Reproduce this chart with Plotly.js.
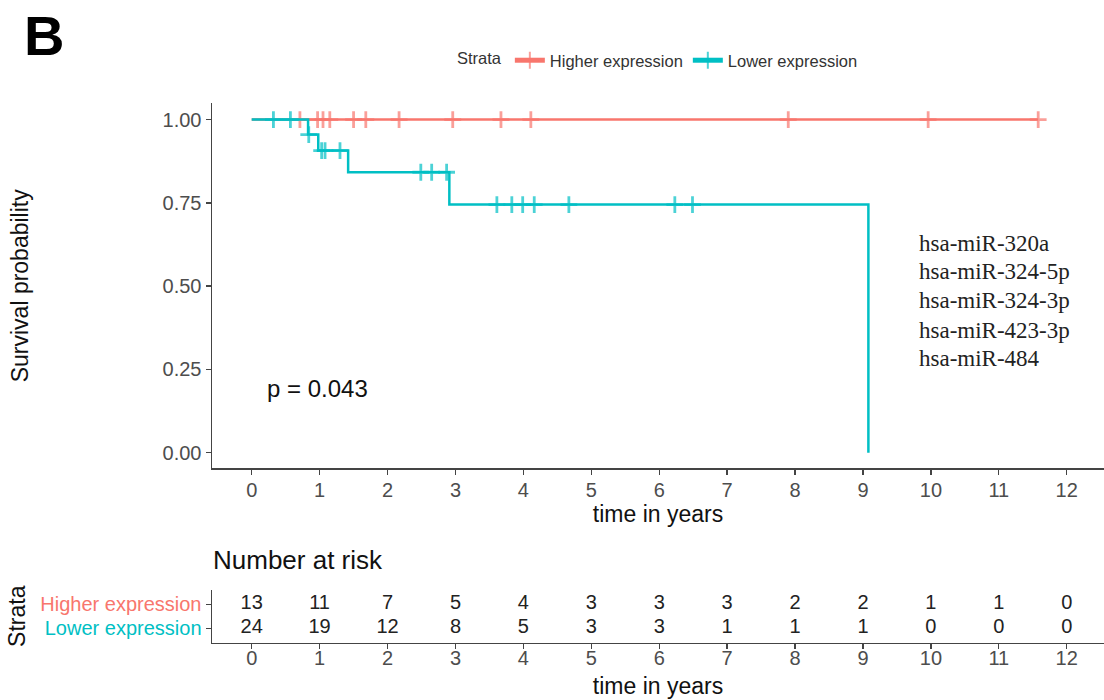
<!DOCTYPE html>
<html>
<head>
<meta charset="utf-8">
<script src="https://cdn.plot.ly/plotly-3.0.1.min.js"></script>
<style>html,body{margin:0;padding:0;background:#fff;}#chart{width:1104px;height:700px;}</style>
</head>
<body>
<div id="chart"></div>
<script>
// ---- data ----
const strataNames = ['Higher expression', 'Lower expression'];
const strataColors = ['#F8766D', '#00BFC4'];

const higherTimes  = [0, 0.71, 0.97, 1.05, 1.15, 1.50, 1.68, 2.17, 2.96, 3.67, 4.11, 7.90, 9.96, 11.58];
const higherSurv   = [1, 1, 1, 1, 1, 1, 1, 1, 1, 1, 1, 1, 1, 1];
const higherCensor = [0, 1, 1, 1, 1, 1, 1, 1, 1, 1, 1, 1, 1, 1];

const lowerTimes  = [0, 0.32, 0.57, 0.83, 0.84, 0.98, 1.03, 1.08, 1.30, 1.42, 2.49, 2.65, 2.87, 2.91, 3.61, 3.83, 3.99, 4.16, 4.67, 6.23, 6.49, 9.08];
const lowerSurv   = [1, 1, 1, 0.955, 0.955, 0.907, 0.907, 0.907, 0.907, 0.842, 0.842, 0.842, 0.842, 0.745, 0.745, 0.745, 0.745, 0.745, 0.745, 0.745, 0.745, 0];
const lowerCensor = [0, 1, 1, 0, 1, 0, 1, 1, 1, 0, 1, 1, 1, 0, 1, 1, 1, 1, 1, 1, 1, 0];

const riskTimes  = [0, 1, 2, 3, 4, 5, 6, 7, 8, 9, 10, 11, 12];
const riskHigher = [13, 11, 7, 5, 4, 3, 3, 3, 2, 2, 1, 1, 0];
const riskLower  = [24, 19, 12, 8, 5, 3, 3, 1, 1, 1, 0, 0, 0];

const pValueText = 'p = 0.043';
const mirNames = ['hsa-miR-320a', 'hsa-miR-324-5p', 'hsa-miR-324-3p', 'hsa-miR-423-3p', 'hsa-miR-484'];
const mirY = [0.628, 0.543, 0.458, 0.368, 0.283];

// ---- layout helpers ----
const W = 1104, H = 700;
const px = v => v / W;
const py = v => 1 - v / H;
const SANS = 'Liberation Sans, Arial, Helvetica, sans-serif';
const SERIF = 'Liberation Serif, Times New Roman, serif';

function kmTrace(times, surv, censor, name, color) {
  return {
    type: 'scatter', mode: 'lines+markers', name: name,
    x: times, y: surv,
    xaxis: 'x', yaxis: 'y',
    line: {shape: 'hv', color: color, width: 2.5},
    marker: {
      symbol: 'cross-thin-open', color: color,
      size: censor.map(c => c ? 12 : 0),
      line: {color: color, width: 2.8}
    },
    hoverinfo: 'skip'
  };
}

const traces = [
  kmTrace(higherTimes, higherSurv, higherCensor, strataNames[0], strataColors[0]),
  kmTrace(lowerTimes, lowerSurv, lowerCensor, strataNames[1], strataColors[1]),
  {
    type: 'scatter', mode: 'text', showlegend: false, hoverinfo: 'skip',
    x: riskTimes, y: riskTimes.map(() => 2), text: riskHigher.map(String),
    xaxis: 'x2', yaxis: 'y2',
    textfont: {family: SANS, size: 20, color: '#222'}
  },
  {
    type: 'scatter', mode: 'text', showlegend: false, hoverinfo: 'skip',
    x: riskTimes, y: riskTimes.map(() => 1), text: riskLower.map(String),
    xaxis: 'x2', yaxis: 'y2',
    textfont: {family: SANS, size: 20, color: '#222'}
  }
];

const xr = [-0.5845, 12.549];
const axisCommon = {
  showgrid: false, zeroline: false, showline: true,
  linecolor: '#444', linewidth: 1.5,
  ticks: 'outside', ticklen: 5, tickwidth: 1.3, tickcolor: '#444',
  tickfont: {family: SANS, size: 20, color: '#4d4d4d'}
};

const annotations = [
  {xref: 'paper', yref: 'paper', x: px(22), y: py(36), xanchor: 'left', yanchor: 'middle',
   text: '<b>B</b>', showarrow: false, font: {family: SANS, size: 56, color: '#000'}},
  {xref: 'x', yref: 'y', x: 0.20, y: 0.194, xanchor: 'left', yanchor: 'middle',
   text: pValueText, showarrow: false, font: {family: SANS, size: 24, color: '#111'}},
  {xref: 'paper', yref: 'paper', x: px(211), y: py(560), xanchor: 'left', yanchor: 'middle',
   text: 'Number at risk', showarrow: false, font: {family: SANS, size: 26, color: '#111'}}
];
mirNames.forEach((n, i) => annotations.push({
  xref: 'x', yref: 'y', x: 9.79, y: mirY[i], xanchor: 'left', yanchor: 'middle',
  text: n, showarrow: false, font: {family: SERIF, size: 23, color: '#222'}
}));

const layout = {
  width: W, height: H,
  margin: {l: 0, r: 0, t: 0, b: 0},
  paper_bgcolor: '#fff', plot_bgcolor: '#fff',
  font: {family: SANS, color: '#222'},
  showlegend: true,
  legend: {
    orientation: 'h', x: px(455), y: py(43), xanchor: 'left', yanchor: 'top',
    font: {family: SANS, size: 16.5, color: '#333'},
    title: {text: 'Strata', font: {family: SANS, size: 16.5, color: '#333'}},
    itemsizing: 'constant', bgcolor: 'rgba(0,0,0,0)', traceorder: 'normal'
  },
  xaxis: Object.assign({}, axisCommon, {
    domain: [px(212), 1], range: xr, anchor: 'y',
    tickvals: riskTimes, ticktext: riskTimes.map(String),
    ticklabelstandoff: -2,
    title: {text: 'time in years', font: {family: SANS, size: 23, color: '#111'}, standoff: 4}
  }),
  yaxis: Object.assign({}, axisCommon, {
    domain: [py(468.3), py(103.3)], range: [-0.047, 1.049], anchor: 'x',
    tickvals: [0, 0.25, 0.5, 0.75, 1], ticktext: ['0.00', '0.25', '0.50', '0.75', '1.00'],
    title: {text: 'Survival probability', font: {family: SANS, size: 23, color: '#111'}, standoff: 127}
  }),
  xaxis2: Object.assign({}, axisCommon, {
    domain: [px(212), 1], range: xr, anchor: 'y2',
    tickvals: riskTimes, ticktext: riskTimes.map(String),
    ticklabelstandoff: -8,
    title: {text: 'time in years', font: {family: SANS, size: 23, color: '#111'}, standoff: 10}
  }),
  yaxis2: Object.assign({}, axisCommon, {
    domain: [py(642.5), py(590)], range: [0.4, 2.6], anchor: 'x2',
    tickvals: [2, 1],
    ticktext: strataNames.map((n, i) => '<span style="color:' + strataColors[i] + '">' + n + '</span>'),
    title: {text: 'Strata', font: {family: SANS, size: 23, color: '#111'}, standoff: 8}
  }),
  annotations: annotations
};

Plotly.newPlot('chart', traces, layout, {displayModeBar: false, staticPlot: true});
</script>
</body>
</html>
